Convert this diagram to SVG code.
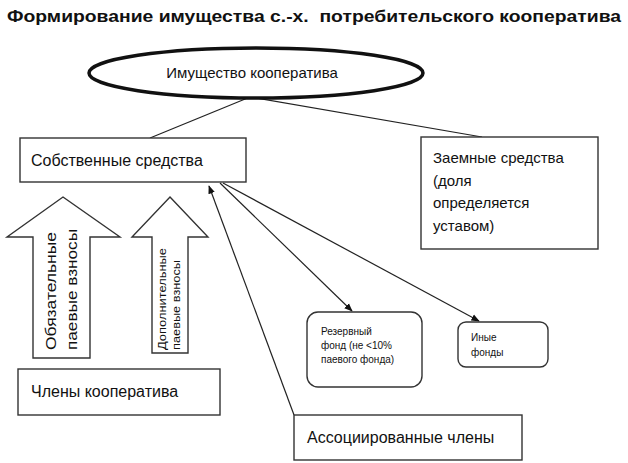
<svg xmlns="http://www.w3.org/2000/svg" width="628" height="463" viewBox="0 0 628 463">
<defs>
<style>
text{font-family:"Liberation Sans",Arial,sans-serif;fill:#111}
.box{fill:#fff;stroke:#333;stroke-width:1.4}
.ln{stroke:#222;stroke-width:1.2;fill:none}
.t16{font-size:16px}
.t15{font-size:15px}
.t10{font-size:10px}
</style>
<marker id="ah" viewBox="0 0 10 10" refX="9" refY="5" markerWidth="7" markerHeight="7" orient="auto-start-reverse">
<path d="M0,1 L10,5 L0,9 z" fill="#111"/>
</marker>
</defs>
<rect width="628" height="463" fill="#fff"/>
<text x="7" y="22" font-size="16.5" font-weight="bold" textLength="614" lengthAdjust="spacingAndGlyphs" xml:space="preserve">Формирование имущества с.-х.  потребительского кооператива</text>

<g id="connectors">
<line class="ln" x1="250" y1="97" x2="150" y2="138"/>
<line class="ln" x1="250" y1="97" x2="482" y2="137"/>
<line class="ln" x1="294" y1="415" x2="209" y2="186" marker-end="url(#ah)"/>
<line class="ln" x1="220" y1="183" x2="352" y2="311" marker-end="url(#ah)"/>
<line class="ln" x1="223" y1="183" x2="479" y2="321" marker-end="url(#ah)"/>
</g>

<g id="imushchestvo">
<ellipse cx="256" cy="73" rx="167" ry="25" fill="#fff" stroke="#111" stroke-width="3.5"/>
<text x="252" y="78" class="t15" text-anchor="middle">Имущество кооператива</text>
</g>

<g id="sobstvennye">
<rect class="box" x="20" y="138" width="226" height="44"/>
<text x="31" y="166" class="t16">Собственные средства</text>
</g>

<g id="zaemnye">
<rect class="box" x="421" y="137" width="177" height="112"/>
<text class="t15"><tspan x="433" y="163">Заемные средства</tspan><tspan x="433" y="186">(доля</tspan><tspan x="433" y="208">определяется</tspan><tspan x="433" y="231">уставом)</tspan></text>
</g>

<g id="obyazatelnye">
<path class="box" d="M63,197 L120,237 L90,237 L90,358 L33,358 L33,237 L7,237 Z"/>
<text class="t15" transform="translate(56,350) rotate(-90)" textLength="118" lengthAdjust="spacingAndGlyphs">Обязательные</text>
<text class="t15" transform="translate(77,350) rotate(-90)" textLength="121" lengthAdjust="spacingAndGlyphs">паевые взносы</text>
</g>

<g id="dopolnitelnye">
<path class="box" d="M170,197 L208,237 L188,237 L188,353 L152,353 L152,237 L132,237 Z"/>
<text class="t10" transform="translate(166,350) rotate(-90)" textLength="102" lengthAdjust="spacingAndGlyphs">Дополнительные</text>
<text class="t10" transform="translate(180,350) rotate(-90)" textLength="90" lengthAdjust="spacingAndGlyphs">паевые взносы</text>
</g>

<g id="chleny">
<rect class="box" x="18" y="369" width="202" height="46"/>
<text x="31" y="397" class="t16">Члены кооператива</text>
</g>

<g id="associirovannye">
<rect class="box" x="294" y="415" width="228" height="45"/>
<text x="307" y="443" class="t16">Ассоциированные члены</text>
</g>

<g id="rezervny">
<rect class="box" x="307" y="312" width="115" height="75" rx="11"/>
<text class="t10"><tspan x="321" y="335">Резервный</tspan><tspan x="321" y="349">фонд (не &lt;10%</tspan><tspan x="321" y="363">паевого фонда)</tspan></text>
</g>

<g id="inye">
<rect class="box" x="458" y="322" width="90" height="45" rx="8"/>
<text class="t10"><tspan x="471" y="341">Иные</tspan><tspan x="471" y="356">фонды</tspan></text>
</g>
</svg>
